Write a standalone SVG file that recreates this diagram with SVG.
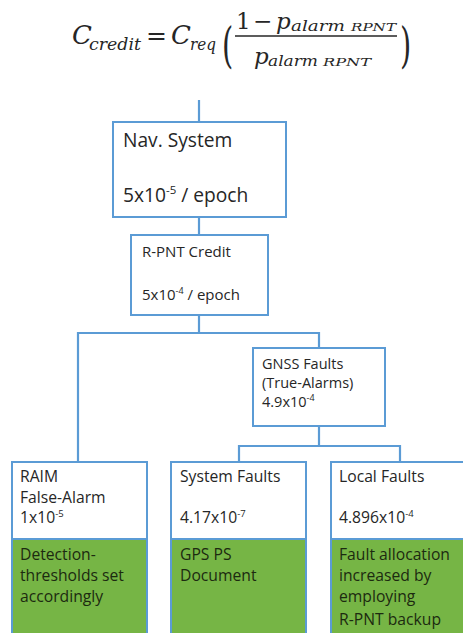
<svg xmlns="http://www.w3.org/2000/svg" width="463" height="633" viewBox="0 0 463 633">
<style>
.box{fill:#ffffff;stroke:#5b9bd5;stroke-width:2}
.gbox{fill:#76b545;stroke:#5b9bd5;stroke-width:2}
.con{fill:none;stroke:#5b9bd5;stroke-width:2.2}
.t{font-family:"Open Sans",Lato,sans-serif;fill:#262626}
.g{font-family:"Open Sans",Lato,sans-serif;fill:#1c2a10}
.m{font-family:"DejaVu Serif","Liberation Serif",serif;font-style:italic;fill:#262626}
.r{font-family:"DejaVu Serif","Liberation Serif",serif;fill:#262626}
</style>
<g id="formula">
<text class="m" x="72" y="44" font-size="26">C</text>
<text class="m" x="89" y="50" font-size="16" textLength="52" lengthAdjust="spacingAndGlyphs">credit</text>
<text class="r" x="146" y="44" font-size="25">=</text>
<text class="m" x="171" y="44" font-size="26">C</text>
<text class="m" x="190" y="50" font-size="16" textLength="26" lengthAdjust="spacingAndGlyphs">req</text>
<text class="r" x="222" y="62" font-size="48" font-weight="200" transform="translate(222 44) scale(0.6 1) translate(-222 -44)">(</text>
<text class="r" x="236" y="29" font-size="23">1</text>
<text class="r" x="253" y="29" font-size="23">−</text>
<text class="m" x="276" y="29" font-size="23">p</text>
<text class="m" x="291" y="31" font-size="15" textLength="54" lengthAdjust="spacingAndGlyphs">alarm</text>
<text class="m" x="351" y="31" font-size="11" textLength="45" lengthAdjust="spacingAndGlyphs">RPNT</text>
<line x1="235" y1="36" x2="397" y2="36" stroke="#262626" stroke-width="1.3"/>
<text class="m" x="254" y="64" font-size="23">p</text>
<text class="m" x="268" y="66" font-size="15" textLength="50" lengthAdjust="spacingAndGlyphs">alarm</text>
<text class="m" x="323" y="66" font-size="11" textLength="48" lengthAdjust="spacingAndGlyphs">RPNT</text>
<text class="r" x="400" y="62" font-size="48" font-weight="200" transform="translate(400 44) scale(0.6 1) translate(-400 -44)">)</text>
</g>
<g id="connectors">
<path class="con" d="M199 100V122"/>
<path class="con" d="M199 217V235"/>
<path class="con" d="M199 315V333M78 462V333H319V348"/>
<path class="con" d="M319 426V446M239 462V446H400V462"/>
</g>
<g id="nav">
<rect class="box" x="113" y="122" width="173" height="95"/>
<text class="t" x="123" y="147" font-size="19.2">Nav. System</text>
<text class="t" x="123" y="202" font-size="19.2">5x10<tspan font-size="11.5" dy="-8">-5</tspan><tspan dy="8"> / epoch</tspan></text>
</g>
<g id="rpnt">
<rect class="box" x="131" y="235" width="137" height="80"/>
<text class="t" x="142" y="257" font-size="15">R-PNT Credit</text>
<text class="t" x="142" y="300" font-size="15">5x10<tspan font-size="9" dy="-6">-4</tspan><tspan dy="6"> / epoch</tspan></text>
</g>
<g id="gnss">
<rect class="box" x="253" y="348" width="132" height="78"/>
<text class="t" x="262" y="369" font-size="14.5">GNSS Faults</text>
<text class="t" x="262" y="388" font-size="14.5">(True-Alarms)</text>
<text class="t" x="262" y="407" font-size="14.5">4.9x10<tspan font-size="9" dy="-6">-4</tspan></text>
</g>
<g id="raim">
<rect class="box" x="12" y="462" width="135" height="77"/>
<rect class="gbox" x="12" y="539" width="135" height="100"/>
<text class="t" x="20" y="482" font-size="15.7">RAIM</text>
<text class="t" x="20" y="503" font-size="15.7">False-Alarm</text>
<text class="t" x="20" y="523" font-size="15.7">1x10<tspan font-size="9.5" dy="-6">-5</tspan></text>
<text class="g" x="20" y="560" font-size="15.7">Detection-</text>
<text class="g" x="20" y="581" font-size="15.7">thresholds set</text>
<text class="g" x="20" y="602" font-size="15.7">accordingly</text>
</g>
<g id="system">
<rect class="box" x="171" y="462" width="135" height="77"/>
<rect class="gbox" x="171" y="539" width="135" height="100"/>
<text class="t" x="180" y="482" font-size="15.7">System Faults</text>
<text class="t" x="180" y="523" font-size="15.7">4.17x10<tspan font-size="9.5" dy="-6">-7</tspan></text>
<text class="g" x="180" y="560" font-size="15.7">GPS PS</text>
<text class="g" x="180" y="581" font-size="15.7">Document</text>
</g>
<g id="local">
<rect class="box" x="331" y="462" width="140" height="77"/>
<rect class="gbox" x="331" y="539" width="140" height="100"/>
<text class="t" x="339" y="482" font-size="15.7">Local Faults</text>
<text class="t" x="339" y="523" font-size="15.7">4.896x10<tspan font-size="9.5" dy="-6">-4</tspan></text>
<text class="g" x="339" y="560" font-size="15.7">Fault allocation</text>
<text class="g" x="339" y="581" font-size="15.7">increased by</text>
<text class="g" x="339" y="602" font-size="15.7">employing</text>
<text class="g" x="339" y="625" font-size="15.7">R-PNT backup</text>
</g>
</svg>
